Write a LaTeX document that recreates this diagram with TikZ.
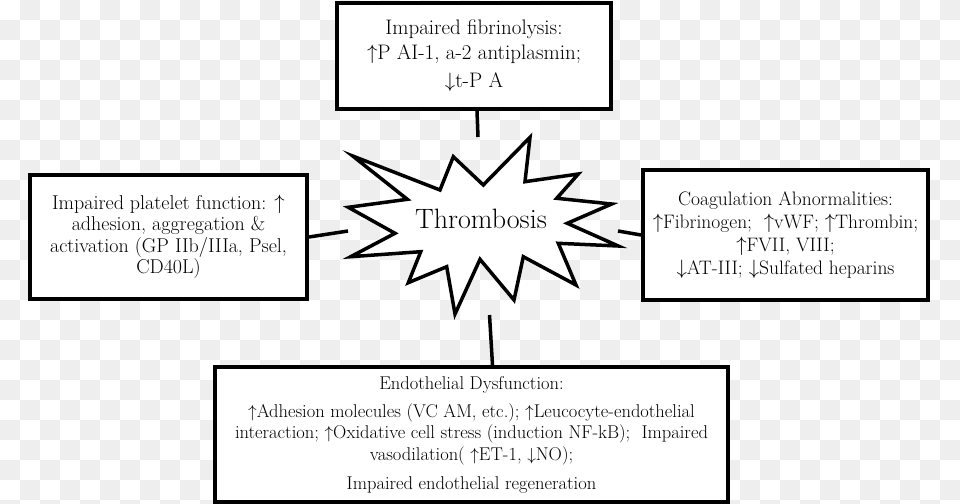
\documentclass[tikz,border=0pt]{standalone}
\usepackage{tikz}
\definecolor{checkgray}{RGB}{238,238,238}
\tikzset{
  box/.style={draw=black, line width=4pt, fill=white, inner sep=0pt, align=center},
  conn/.style={draw=black, line width=3.5pt},
  burst/.style={draw=black, line width=3.5pt, fill=white, line join=miter}
}
\begin{document}
\begin{tikzpicture}[x=1pt,y=-1pt]
\useasboundingbox (0,0) rectangle (960,503);
\clip (0,0) rectangle (960,503);
% checkerboard background
\fill[white] (0,0) rectangle (960,503);
\foreach \i in {0,...,47}{
  \foreach \j in {0,...,25}{
    \pgfmathtruncatemacro\s{\i+\j}
    \ifodd\s \fill[checkgray] (20*\i,20*\j) rectangle (20*\i+20,20*\j+20); \fi
  }
}
% starburst
\draw[burst] (352.7,156) -- (440,190) -- (453.3,156.7) -- (483.3,185) -- (530,137.3)
  -- (525,181.7) -- (578.3,174) -- (556.7,198.3) -- (611.7,204) -- (567.3,223.3)
  -- (618.3,246) -- (558.3,243.3) -- (576,285) -- (523.3,256.7) -- (514,300)
  -- (480,259.3) -- (455,314) -- (446.7,266.7) -- (408.3,282.7) -- (420.7,251.7)
  -- (350.7,256.7) -- (395,233.3) -- (348.3,207.3) -- (407.3,199.3) -- cycle;
\node[font=\fontsize{28}{32}\selectfont] (thr) at (481,219) {Thrombosis};
% connector end points near the starburst
\coordinate (ct) at (478,137);
\coordinate (cl) at (348,231);
\coordinate (cr) at (618,231);
\coordinate (cb) at (489.5,315);
% boxes
\node[box, font=\fontsize{21}{25}\selectfont, minimum width=274pt, minimum height=106pt] (top) at (474,56)
  {Impaired fibrinolysis:\\
   $\uparrow$P AI-1, a-2 antiplasmin;\\[3pt]
   $\downarrow$t-P A};
\node[box, font=\fontsize{20}{21.5}\selectfont, minimum width=277pt, minimum height=124pt] (left) at (168.5,237)
  {Impaired platelet function: $\uparrow$\\
   adhesion, aggregation \&\\
   activation (GP IIb/IIIa, Psel,\\
   CD40L)};
\node[box, font=\fontsize{19.5}{22.8}\selectfont, minimum width=285pt, minimum height=130pt] (right) at (785.5,235)
  {Coagulation Abnormalities:\\
   $\uparrow$Fibrinogen;\ \ $\uparrow$vWF; $\uparrow$Thrombin;\\
   $\uparrow$FVII, VIII;\\
   $\downarrow$AT-III; $\downarrow$Sulfated heparins};
\node[box, font=\fontsize{18.5}{21.5}\selectfont, minimum width=513pt, minimum height=135pt] (bot) at (471.5,434.5)
  {Endothelial Dysfunction:\\[6.5pt]
   $\uparrow$Adhesion molecules (VC AM, etc.); $\uparrow$Leucocyte-endothelial\\
   interaction; $\uparrow$Oxidative cell stress (induction NF-kB);\ \ Impaired\\
   vasodilation( $\uparrow$ET-1, $\downarrow$NO);\\[7.5pt]
   Impaired endothelial regeneration};
% connectors
\draw[conn] ([xshift=3pt]top.south) -- (ct);
\draw[conn] (left.east) -- (cl);
\draw[conn] (right.west) -- (cr);
\draw[conn] ([xshift=21pt]bot.north) -- (cb);
\end{tikzpicture}
\end{document}
